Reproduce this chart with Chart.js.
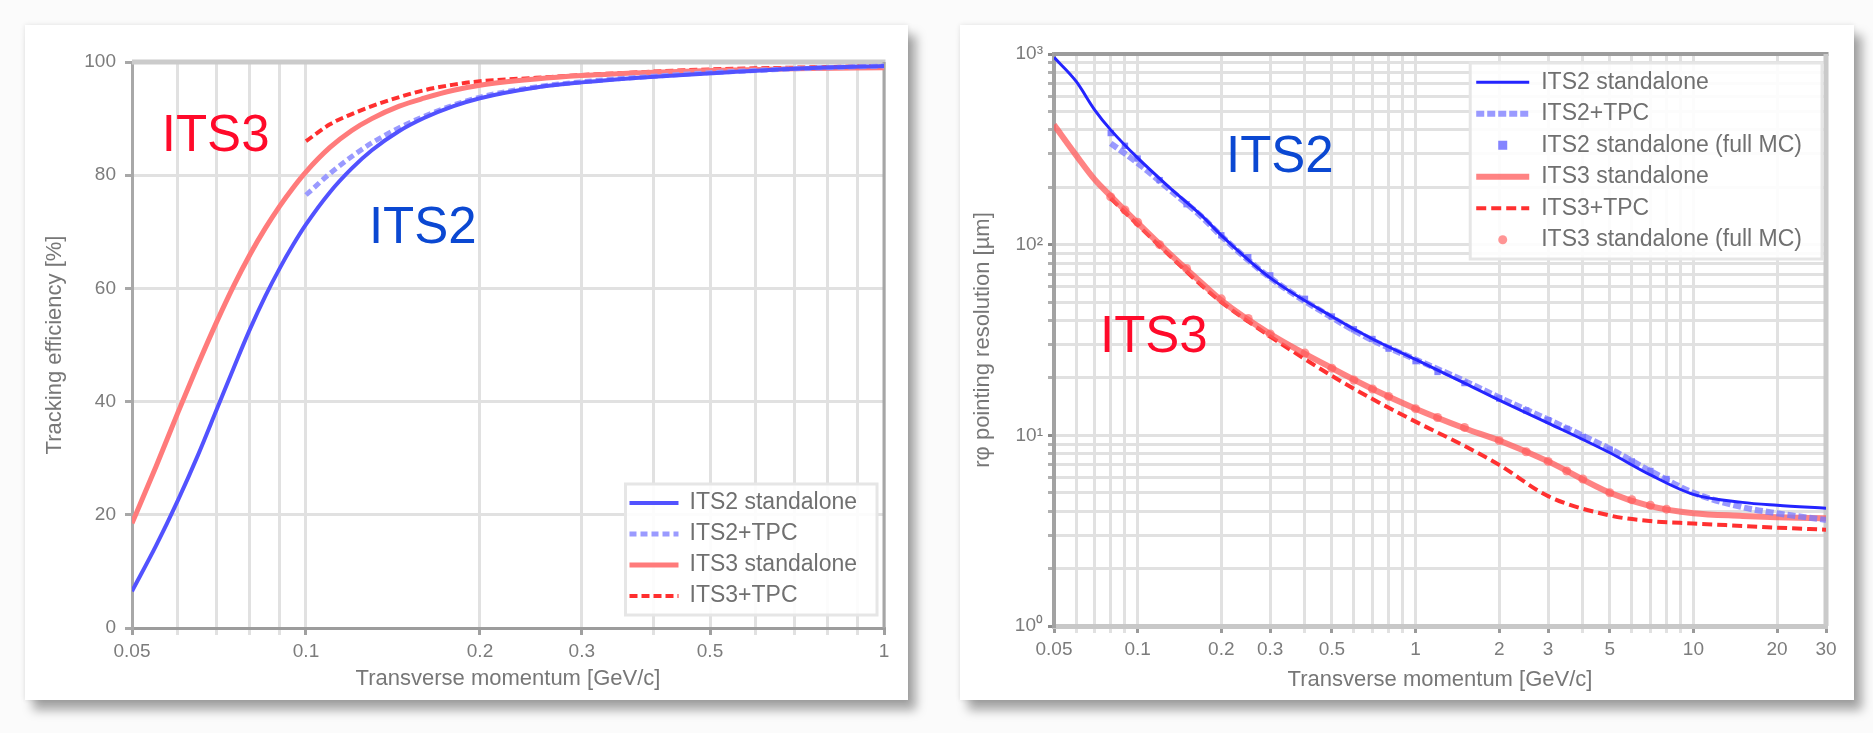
<!DOCTYPE html>
<html>
<head>
<meta charset="utf-8">
<title>ITS2 vs ITS3</title>
<script src="https://cdn.jsdelivr.net/npm/chart.js@4.4.1/dist/chart.umd.min.js"></script>
<style>
    html, body {
        margin: 0;
        padding: 0;
        background: #fbfbfb;
    }
    body {
        width: 1873px;
        height: 733px;
        position: relative;
        overflow: hidden;
    }
    .card {
        position: absolute;
        background: #ffffff;
        box-shadow: 8px 10px 10px rgba(0, 0, 0, 0.35), 0 0 5px rgba(0, 0, 0, 0.10);
    }
    #effCard {
        left: 25px;
        top: 25px;
        width: 883px;
        height: 675px;
    }
    #resCard {
        left: 960px;
        top: 25px;
        width: 894px;
        height: 675px;
    }
    canvas {
        display: block;
    }
</style>
</head>
<body>

<div class="card" id="effCard"><canvas id="effChart" width="883" height="675"></canvas></div>
<div class="card" id="resCard"><canvas id="resChart" width="894" height="675"></canvas></div>

<script>

// tracking efficiency (left)
const effPt = [0.05, 0.055, 0.06, 0.065, 0.07, 0.075, 0.08, 0.085, 0.09, 0.095, 0.1, 0.11, 0.12, 0.13, 0.145, 0.16, 0.18, 0.2, 0.25, 0.3, 0.4, 0.5, 0.7, 1.0];
const effIts2 = [6.5, 14.5, 22.5, 30.5, 38.5, 46, 52.8, 58.6, 63.5, 67.7, 71.3, 77, 81.2, 84.4, 87.8, 90.1, 92.2, 93.6, 95.5, 96.4, 97.4, 98, 98.8, 99.3];
const effIts3 = [18.5, 28.5, 38, 46.5, 54, 60.5, 66, 70.6, 74.5, 77.8, 80.6, 84.9, 87.9, 90, 92.2, 93.6, 95, 95.9, 97, 97.6, 98.2, 98.5, 98.8, 99];

const effPtTpc = [0.1, 0.11, 0.12, 0.13, 0.145, 0.16, 0.18, 0.2, 0.25, 0.3, 0.4, 0.5, 0.7, 1.0];
const effIts2Tpc = [76.5, 80.3, 83.3, 85.7, 88.4, 90.4, 92.4, 93.8, 95.6, 96.5, 97.5, 98.1, 98.8, 99.3];
const effIts3Tpc = [86, 89, 90.8, 92.2, 93.8, 95, 96, 96.6, 97.2, 97.7, 98.3, 98.7, 99, 99.3];

const effGridX = [0.05, 0.06, 0.07, 0.08, 0.09, 0.1, 0.2, 0.3, 0.4, 0.5, 0.6, 0.7, 0.8, 0.9, 1];
const effLabelsX = [0.05, 0.1, 0.2, 0.3, 0.5, 1];

// pointing resolution (right)
const resPt = [0.05, 0.06, 0.07, 0.08, 0.1, 0.13, 0.17, 0.2, 0.3, 0.5, 0.7, 1, 1.5, 2, 3, 5, 7, 10, 15, 20, 30];
const resIts2 = [960, 720, 510, 400, 285, 200, 142, 112, 67, 42, 32, 25, 18.8, 15.3, 11.6, 8.1, 6.2, 4.9, 4.45, 4.3, 4.15];
const resIts3 = [425, 295, 220, 180, 130, 90, 63, 51, 34, 22.5, 17.5, 13.8, 10.9, 9.4, 7.3, 5.0, 4.25, 3.9, 3.78, 3.72, 3.67];

const resPtTpc = [0.08, 0.1, 0.13, 0.17, 0.2, 0.3, 0.5, 0.7, 1, 1.5, 2, 3, 5, 7, 10, 15, 20, 30];
const resIts2Tpc = [340, 268, 195, 140, 111, 67, 41.5, 31.5, 25, 19.3, 15.8, 12.1, 8.5, 6.5, 5.0, 4.2, 3.9, 3.6];
const resIts3Tpc = [175, 127, 88, 61, 50, 33, 20.5, 15.5, 11.8, 8.8, 7.0, 4.8, 3.8, 3.55, 3.45, 3.35, 3.28, 3.2];

const resPtMc = [0.08, 0.09, 0.1, 0.12, 0.15, 0.2, 0.25, 0.3, 0.4, 0.5, 0.6, 0.7, 0.8, 1, 1.2, 1.5, 2, 2.5, 3, 3.5, 4, 5, 6, 7, 8];
const resIts2Mc = [385, 330, 283, 218, 163, 112, 86, 69, 52, 42, 36, 32, 28.5, 24.5, 21.5, 18.8, 15.6, 13.5, 12, 10.8, 9.8, 8.4, 7.3, 6.5, 5.9];
const resIts3Mc = [178, 152, 131, 100, 75, 52, 41, 34, 27, 22.5, 19.5, 17.5, 16, 13.8, 12.4, 11, 9.4, 8.2, 7.3, 6.5, 5.9, 5.0, 4.6, 4.3, 4.1];

const resGridX = [0.05, 0.06, 0.07, 0.08, 0.09, 0.1, 0.2, 0.3, 0.4, 0.5, 0.6, 0.7, 0.8, 0.9, 1, 2, 3, 4, 5, 6, 7, 8, 9, 10, 20, 30];
const resLabelsX = [0.05, 0.1, 0.2, 0.3, 0.5, 1, 2, 3, 5, 10, 20, 30];
const resGridY = [1, 2, 3, 4, 5, 6, 7, 8, 9, 10, 20, 30, 40, 50, 60, 70, 80, 90, 100, 200, 300, 400, 500, 600, 700, 800, 900, 1000];
const resLabelsY = { 1: "10⁰", 10: "10¹", 100: "10²", 1000: "10³" };

Chart.defaults.font.family = '"Liberation Sans", Arial, sans-serif';

const gridColor = "#e1e1e1";
const tickText = "#7c7c7c";
const titleText = "#777777";


function pairs(xs, ys) {
    return xs.map((x, i) => ({ x: x, y: ys[i] }));
}

function lineSet(label, xs, ys, color, width, dash) {
    return {
        label: label,
        data: pairs(xs, ys),
        borderColor: color,
        backgroundColor: color,
        borderWidth: width,
        borderDash: dash || [],
        pointRadius: 0,
        fill: false,
        cubicInterpolationMode: "monotone"
    };
}

function markerSet(label, xs, ys, color, style) {
    return {
        label: label,
        data: pairs(xs, ys),
        showLine: false,
        borderColor: color,
        backgroundColor: color,
        borderWidth: 0,
        pointStyle: style,
        pointRadius: 4.5
    };
}

// legend drawn as a box inside the plot area
function boxLegend(cfg) {
    return {
        id: "boxLegend",
        afterDatasetsDraw(chart) {
            const ctx = chart.ctx;
            const a = chart.chartArea;
            const sets = chart.data.datasets;

            ctx.save();
            ctx.font = "23px 'Liberation Sans', Arial, sans-serif";
            const textW = Math.max(...sets.map(d => ctx.measureText(d.label).width));
            const w = cfg.textOffset + textW + 20;
            const h = sets.length * cfg.rowHeight + 7;
            const x0 = a.right - cfg.marginX - w;
            const y0 = cfg.bottom ? a.bottom - cfg.marginY - h : a.top + cfg.marginY;

            ctx.fillStyle = "rgba(255,255,255,0.9)";
            ctx.fillRect(x0, y0, w, h);
            ctx.strokeStyle = "#e6e6e6";
            ctx.lineWidth = 3;
            ctx.strokeRect(x0, y0, w, h);

            sets.forEach((d, i) => {
                const cy = y0 + 3.5 + cfg.rowHeight * (i + 0.5);
                const sx = x0 + cfg.sampleLeft;

                if (d.showLine === false) {
                    ctx.fillStyle = d.backgroundColor;
                    const mx = sx + cfg.sampleWidth / 2;
                    if (d.pointStyle === "rect") {
                        ctx.fillRect(mx - 4.5, cy - 4.5, 9, 9);
                    } else {
                        ctx.beginPath();
                        ctx.arc(mx, cy, 4.5, 0, Math.PI * 2);
                        ctx.fill();
                    }
                } else {
                    ctx.setLineDash(d.borderDash);
                    ctx.strokeStyle = d.borderColor;
                    ctx.lineWidth = d.borderWidth;
                    ctx.beginPath();
                    ctx.moveTo(sx, cy);
                    ctx.lineTo(sx + cfg.sampleWidth, cy);
                    ctx.stroke();
                    ctx.setLineDash([]);
                }

                ctx.fillStyle = "#707070";
                ctx.textAlign = "left";
                ctx.textBaseline = "middle";
                ctx.fillText(d.label, x0 + cfg.textOffset, cy);
            });

            ctx.restore();
        }
    };
}

// big "ITS2" / "ITS3" captions, placed in data coordinates
function captions(items) {
    return {
        id: "captions",
        afterDatasetsDraw(chart) {
            const ctx = chart.ctx;
            ctx.save();
            ctx.font = "51px 'Liberation Sans', Arial, sans-serif";
            ctx.textAlign = "left";
            ctx.textBaseline = "alphabetic";
            items.forEach(t => {
                ctx.fillStyle = t.color;
                ctx.fillText(t.text, chart.scales.x.getPixelForValue(t.x), chart.scales.y.getPixelForValue(t.y));
            });
            ctx.restore();
        }
    };
}

// top and right edge of the plot frame
function frameEdges(top, right) {
    return {
        id: "frameEdges",
        beforeDatasetsDraw(chart) {
            const ctx = chart.ctx;
            const a = chart.chartArea;
            ctx.save();
            ctx.strokeStyle = top.color;
            ctx.lineWidth = top.width;
            ctx.beginPath();
            ctx.moveTo(a.left, a.top);
            ctx.lineTo(a.right + right.width / 2, a.top);
            ctx.stroke();
            ctx.strokeStyle = right.color;
            ctx.lineWidth = right.width;
            ctx.beginPath();
            ctx.moveTo(a.right, a.top);
            ctx.lineTo(a.right, a.bottom);
            ctx.stroke();
            ctx.restore();
        }
    };
}

function logTicks(values) {
    return function (axis) {
        axis.ticks = values.map(v => ({ value: v }));
    };
}


function drawEfficiency() {

    const ctx = document.getElementById("effChart").getContext("2d");

    new Chart(ctx, {

        type: "line",

        data: {
            datasets: [
                lineSet("ITS2 standalone", effPt, effIts2, "#5252ff", 4),
                lineSet("ITS2+TPC", effPtTpc, effIts2Tpc, "#9a9aff", 5, [7, 4]),
                lineSet("ITS3 standalone", effPt, effIts3, "#ff7b7b", 5),
                lineSet("ITS3+TPC", effPtTpc, effIts3Tpc, "#ff2f2f", 4, [8, 4])
            ]
        },

        options: {
            responsive: false,
            animation: false,
            layout: {
                padding: { left: 0, right: 24, top: 37, bottom: 0 }
            },
            scales: {
                x: {
                    type: "logarithmic",
                    min: 0.05,
                    max: 1,
                    bounds: "data",
                    afterBuildTicks: logTicks(effGridX),
                    afterFit: s => { s.height = 72; },
                    ticks: {
                        autoSkip: false,
                        maxRotation: 0,
                        padding: 5,
                        color: tickText,
                        font: { size: 19 },
                        callback: v => effLabelsX.includes(v) ? String(v) : ""
                    },
                    grid: {
                        color: gridColor,
                        lineWidth: 3,
                        tickLength: 7,
                        tickColor: c => (c.tick && effLabelsX.includes(c.tick.value)) ? "#a0a0a0" : gridColor
                    },
                    border: { color: "#9c9c9c", width: 3 },
                    title: {
                        display: true,
                        text: "Transverse momentum [GeV/c]",
                        color: titleText,
                        font: { size: 22 },
                        padding: { top: 0, bottom: 8 }
                    }
                },
                y: {
                    min: 0,
                    max: 100,
                    afterFit: s => { s.width = 107; },
                    ticks: {
                        stepSize: 20,
                        padding: 9,
                        color: tickText,
                        font: { size: 19 }
                    },
                    grid: {
                        color: gridColor,
                        lineWidth: 3,
                        tickLength: 7,
                        tickColor: "#a8a8a8"
                    },
                    border: { color: "#a8a8a8", width: 3 },
                    title: {
                        display: true,
                        text: "Tracking efficiency [%]",
                        color: titleText,
                        font: { size: 22 },
                        padding: { top: 17, bottom: 0 }
                    }
                }
            },
            plugins: {
                legend: { display: false },
                tooltip: { enabled: false }
            }
        },

        plugins: [
            frameEdges({ color: "#cbcbcb", width: 5 }, { color: "#a6a6a6", width: 3 }),
            boxLegend({ bottom: true, marginX: 7, marginY: 13, rowHeight: 31, textOffset: 64, sampleLeft: 4, sampleWidth: 49 }),
            captions([
                { text: "ITS3", x: 0.0563, y: 84.3, color: "#ff0a2a" },
                { text: "ITS2", x: 0.1285, y: 68.1, color: "#0b48d2" }
            ])
        ]

    });

}


function drawResolution() {

    const ctx = document.getElementById("resChart").getContext("2d");

    new Chart(ctx, {

        type: "line",

        data: {
            datasets: [
                lineSet("ITS2 standalone", resPt, resIts2, "#2424ff", 3),
                lineSet("ITS2+TPC", resPtTpc, resIts2Tpc, "rgba(120,120,255,0.75)", 6, [8, 3]),
                markerSet("ITS2 standalone (full MC)", resPtMc, resIts2Mc, "rgba(110,110,255,0.85)", "rect"),
                lineSet("ITS3 standalone", resPt, resIts3, "rgba(255,90,90,0.75)", 6),
                lineSet("ITS3+TPC", resPtTpc, resIts3Tpc, "#ff3030", 4, [10, 5]),
                markerSet("ITS3 standalone (full MC)", resPtMc, resIts3Mc, "rgba(255,130,130,0.85)", "circle")
            ]
        },

        options: {
            responsive: false,
            animation: false,
            layout: {
                padding: { left: 0, right: 28, top: 29, bottom: 0 }
            },
            scales: {
                x: {
                    type: "logarithmic",
                    min: 0.05,
                    max: 30,
                    bounds: "data",
                    afterBuildTicks: logTicks(resGridX),
                    afterFit: s => { s.height = 74; },
                    ticks: {
                        autoSkip: false,
                        maxRotation: 0,
                        padding: 5,
                        color: tickText,
                        font: { size: 19 },
                        callback: v => resLabelsX.includes(v) ? String(v) : ""
                    },
                    grid: {
                        color: gridColor,
                        lineWidth: 3,
                        tickLength: 7,
                        tickColor: c => (c.tick && resLabelsX.includes(c.tick.value)) ? "#9a9a9a" : gridColor
                    },
                    border: { color: "#c8c8c8", width: 5 },
                    title: {
                        display: true,
                        text: "Transverse momentum [GeV/c]",
                        color: titleText,
                        font: { size: 22 },
                        padding: { top: 0, bottom: 7 }
                    }
                },
                y: {
                    type: "logarithmic",
                    min: 1,
                    max: 1000,
                    bounds: "data",
                    afterBuildTicks: logTicks(resGridY),
                    afterFit: s => { s.width = 94; },
                    ticks: {
                        autoSkip: false,
                        padding: 5,
                        color: tickText,
                        font: { size: 19 },
                        callback: v => resLabelsY[v] || ""
                    },
                    grid: {
                        color: gridColor,
                        lineWidth: 3,
                        tickLength: 6,
                        tickColor: c => (c.tick && resLabelsY[c.tick.value]) ? "#8c8c8c" : "#b0b0b0"
                    },
                    border: { color: "#a2a2a2", width: 4 },
                    title: {
                        display: true,
                        text: "rφ pointing resolution [µm]",
                        color: titleText,
                        font: { size: 22 },
                        padding: { top: 10, bottom: 0 }
                    }
                }
            },
            plugins: {
                legend: { display: false },
                tooltip: { enabled: false }
            }
        },

        plugins: [
            frameEdges({ color: "#9c9c9c", width: 4 }, { color: "#cacaca", width: 5 }),
            boxLegend({ bottom: false, marginX: 4, marginY: 9, rowHeight: 31.5, textOffset: 71, sampleLeft: 6, sampleWidth: 53 }),
            captions([
                { text: "ITS2", x: 0.208, y: 241, color: "#0b48d2" },
                { text: "ITS3", x: 0.0732, y: 27.5, color: "#ff0a2a" }
            ])
        ]

    });

}

drawEfficiency();
drawResolution();

</script>
</body>
</html>
